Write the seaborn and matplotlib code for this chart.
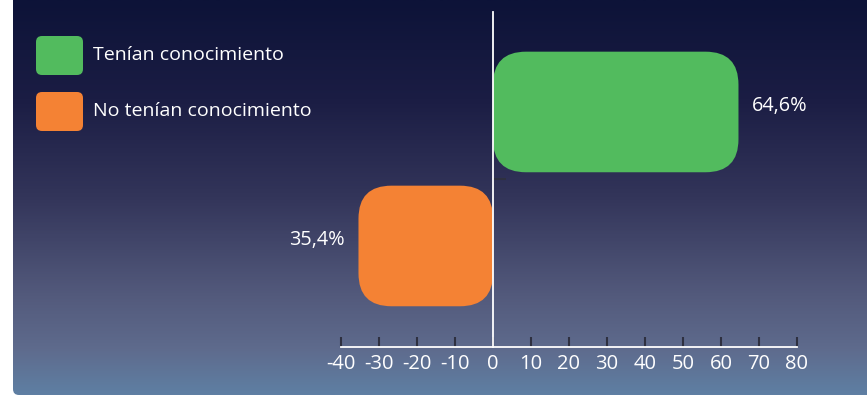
import numpy as np
import pandas as pd
import matplotlib
matplotlib.use("Agg")
import matplotlib.pyplot as plt
from matplotlib.patches import FancyBboxPatch
from matplotlib.colors import LinearSegmentedColormap
import seaborn as sns

# ---- data ----
categorias = ["Tenían conocimiento", "No tenían conocimiento"]
porcentajes = [64.6, 35.4]
direccion = [1, -1]
colores = ["#52bb5e", "#f48234"]
etiquetas = ["64,6%", "35,4%"]
xticks = [-40, -30, -20, -10, 0, 10, 20, 30, 40, 50, 60, 70, 80]

sns.set_theme(style="white")
plt.rcParams["font.family"] = ["Open Sans", "DejaVu Sans"]

W, H = 867, 395
fig = plt.figure(figsize=(W / 100, H / 100), dpi=100)
fig.patch.set_facecolor("white")

# ---- background gradient (pixel coordinates) ----
bg = fig.add_axes([0, 0, 1, 1], zorder=-10)
bg.set_xlim(0, W)
bg.set_ylim(H, 0)
bg.axis("off")
cmap = LinearSegmentedColormap.from_list(
    "bg",
    [(0.0, "#0d1338"), (0.25, "#1b1d44"), (0.5, "#33355a"),
     (0.75, "#535a7c"), (0.88, "#5e6a8c"), (1.0, "#5f7fa3")])
grad = np.linspace(0, 1, 400).reshape(-1, 1)
im = bg.imshow(grad, cmap=cmap, aspect="auto", extent=(0, W, H, 0),
               interpolation="bilinear")
clip = FancyBboxPatch((13, -40), W + 40, H + 40,
                      boxstyle="round,pad=0,rounding_size=6",
                      transform=bg.transData, facecolor="none", edgecolor="none")
bg.add_patch(clip)
im.set_clip_path(clip)

# ---- main axes ----
x0px, x1px, ytop, ybot = 341, 797, 12, 347
ax = fig.add_axes([x0px / W, (H - ybot) / H, (x1px - x0px) / W, (ybot - ytop) / H])
ax.set_facecolor("none")

df = pd.DataFrame({
    "categoria": categorias,
    "valor": [p * d for p, d in zip(porcentajes, direccion)],
})
sns.barplot(data=df, x="valor", y="categoria", hue="categoria",
            palette=colores, width=0.9, legend=False, ax=ax, orient="h",
            saturation=1)

ax.set_xlim(-40, 80)
ax.set_ylim(1.754, -0.746)

# replace bars with rounded ones
px_per_x = (x1px - x0px) / 120.0
px_per_y = (ybot - ytop) / 2.5
radius_px = 33
bars = list(ax.patches)
for p in bars:
    bx, by = p.get_x(), p.get_y()
    bw, bh = p.get_width(), p.get_height()
    fc = p.get_facecolor()
    left = min(bx, bx + bw)
    bot = min(by, by + bh)
    w, h = abs(bw), abs(bh)
    p.remove()
    rb = FancyBboxPatch((left, bot), w, h,
                        boxstyle=f"round,pad=0,rounding_size={radius_px / px_per_x}",
                        mutation_aspect=px_per_x / px_per_y,
                        facecolor=fc, edgecolor="none", zorder=2)
    ax.add_patch(rb)

# value labels
for i, (p, d, lab) in enumerate(zip(porcentajes, direccion, etiquetas)):
    xv = p * d
    ax.annotate(lab, (xv, i), xytext=(10 * d, 1), textcoords="offset points",
                ha="left" if d > 0 else "right", va="baseline",
                color="white", fontsize=14.3)

# spines / ticks
for s in ["top", "right"]:
    ax.spines[s].set_visible(False)
ax.spines["left"].set_position(("data", 0))
ax.spines["left"].set_color("white")
ax.spines["left"].set_linewidth(1.3)
ax.spines["left"].set_zorder(3)
ax.spines["bottom"].set_color("white")
ax.spines["bottom"].set_linewidth(1.3)
ax.set_xticks(xticks)
ax.set_xticklabels([str(t) for t in xticks])
ax.tick_params(axis="x", direction="in", length=7, width=1.5, color="#2e3040",
               labelcolor="white", labelsize=14.5, pad=5, bottom=True)
ax.set_yticks([0.5])
ax.set_yticklabels([])
ax.tick_params(axis="y", direction="in", length=9, width=1.5, color="#2e3040", left=True)
ax.set_xlabel("")
ax.set_ylabel("")

# ---- legend (manual, rounded swatches) ----
for j, (cat, col) in enumerate(zip(categorias, colores)):
    top = 36 + j * 56
    sw = FancyBboxPatch((36, top), 47, 39,
                        boxstyle="round,pad=0,rounding_size=6",
                        transform=bg.transData, facecolor=col, edgecolor="none",
                        zorder=5)
    bg.add_patch(sw)
    bg.text(93, top + 19.5, cat, color="white", fontsize=14,
            va="center", ha="left")

fig.savefig("out.png", dpi=100)
